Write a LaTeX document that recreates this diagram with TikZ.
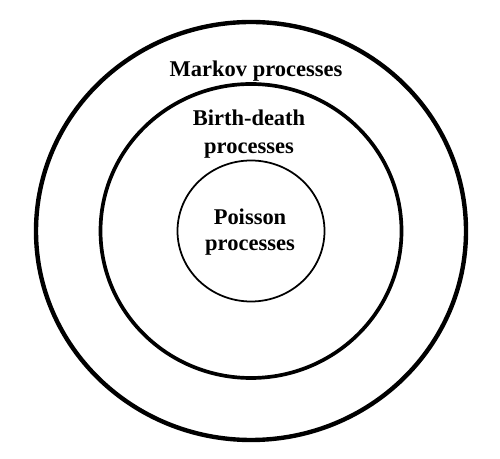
\documentclass[tikz,border=0pt]{standalone}
\usepackage{fontspec}
\setmainfont{Liberation Serif}
\usepackage{tikz}
\usetikzlibrary{calc,positioning,shapes.geometric}
\tikzset{ring/.style={ellipse,draw,inner sep=0pt},
lbl/.style={align=center,font=\fontsize{12.8}{15.2}\selectfont\bfseries}}

\begin{document}
\begin{tikzpicture}
\useasboundingbox (0,0) rectangle (10,9.16);
\coordinate (O) at (5.02,4.54);
\node[ring,line width=2.5pt,minimum width=8.6cm,minimum height=8.36cm] (markov) at (O) {};
\node[ring,line width=2.1pt,minimum width=6.02cm,minimum height=5.88cm] (birth) at (O) {};
\node[ring,line width=1pt,minimum width=2.94cm,minimum height=2.82cm] (poisson) at (O) {};
\node[lbl] (markovtext) at (5.12,7.73) {Markov processes};
\node[lbl,font=\fontsize{12.8}{16}\selectfont\bfseries] (birthtext) at (4.98,6.47) {Birth-death\\processes};
\node[lbl] (poissontext) at (5.0,4.52) {Poisson\\processes};
\end{tikzpicture}
\end{document}
